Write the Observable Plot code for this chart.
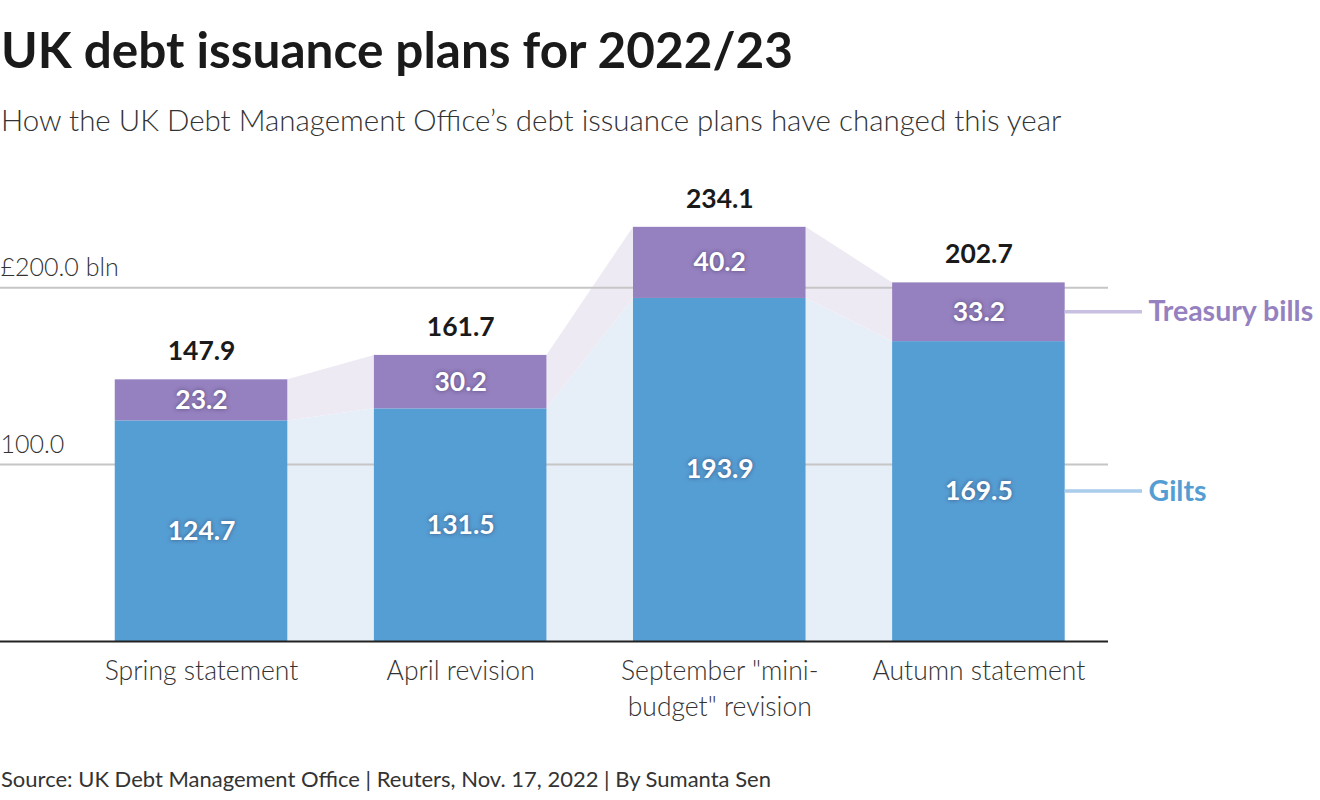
<!DOCTYPE html>
<html>
<head>
<meta charset="utf-8">
<script src="https://cdn.jsdelivr.net/npm/d3@7"></script>
<script src="https://cdn.jsdelivr.net/npm/@observablehq/plot@0.6"></script>
<style>
  html, body { margin: 0; padding: 0; background: #fff; width: 1320px; height: 800px; overflow: hidden; }
  body { font-family: Lato, "Open Sans", sans-serif; color: #222; position: relative; }
  #title { position: absolute; left: 1px; top: 21px; font-size: 49.5px; font-weight: 700; line-height: 56px; color: #1a1a1a; white-space: nowrap; }
  #subtitle { position: absolute; left: 1px; top: 102px; font-size: 29.5px; font-weight: 300; line-height: 36px; color: #333; white-space: nowrap; }
  #chart { position: absolute; left: 0; top: 150px; }
  #caption { position: absolute; left: 1px; top: 764px; font-size: 22px; font-weight: 400; line-height: 30px; color: #333; white-space: nowrap; }
  #chart svg g[fill="white"] text { text-shadow: 0 0 4px rgba(40,30,70,0.55); }
</style>
</head>
<body>
<div id="title">UK debt issuance plans for 2022/23</div>
<div id="subtitle">How the UK Debt Management Office’s debt issuance plans have changed this year</div>
<div id="chart"></div>
<div id="caption">Source: UK Debt Management Office | Reuters, Nov. 17, 2022 | By Sumanta Sen</div>
<script>
const categories = ["Spring statement", "April revision", "September \"mini-budget\" revision", "Autumn statement"];
const categoryLabels = ["Spring statement", "April revision", "September \"mini-\nbudget\" revision", "Autumn statement"];
const gilts = [124.7, 131.5, 193.9, 169.5];
const bills = [23.2, 30.2, 40.2, 33.2];
const totals = [147.9, 161.7, 234.1, 202.7];
const yTicks = [100, 200];
const yTickLabels = ["100.0", "£200.0 bln"];
const seriesNames = ["Gilts", "Treasury bills"];

const BLUE = "#559ed3", PURPLE = "#9581bf";
const LIGHT_BLUE = "#e6eff8", LIGHT_PURPLE = "#eeeaf4";

const rows = categories.map((c, i) => ({cat: c, gilts: gilts[i], bills: bills[i], total: totals[i]}));
const stacked = [];
rows.forEach(r => {
  stacked.push({cat: r.cat, series: "Gilts", y1: 0, y2: r.gilts, value: r.gilts});
  stacked.push({cat: r.cat, series: "Treasury bills", y1: r.gilts, y2: r.gilts + r.bills, value: r.bills});
});

function bw(x) { return typeof x.bandwidth === "function" ? x.bandwidth() : x.bandwidth; }

// connectors between bars, drawn from the plot's scales
function connectors(index, scales) {
  const {x, y} = scales;
  const w = bw(x);
  const g = d3.create("svg:g");
  for (let i = 0; i < rows.length - 1; i++) {
    const a = rows[i], b = rows[i + 1];
    const xa = x(a.cat) + w, xb = x(b.cat);
    g.append("path")
      .attr("d", `M${xa},${y(0)}L${xa},${y(a.gilts)}L${xb},${y(b.gilts)}L${xb},${y(0)}Z`)
      .attr("fill", LIGHT_BLUE);
    g.append("path")
      .attr("d", `M${xa},${y(a.gilts)}L${xa},${y(a.total)}L${xb},${y(b.total)}L${xb},${y(b.gilts)}Z`)
      .attr("fill", LIGHT_PURPLE);
  }
  return g.node();
}

// legend leader lines from the last bar to the series labels
function leaders(index, scales, values, dims) {
  const {x, y} = scales;
  const last = rows[rows.length - 1];
  const x0 = x(last.cat) + bw(x);
  const x1 = dims.width - dims.marginRight + 34;
  const g = d3.create("svg:g").attr("stroke-width", 3.5);
  g.append("line").attr("x1", x0).attr("x2", x1)
    .attr("y1", y(last.gilts + last.bills / 2)).attr("y2", y(last.gilts + last.bills / 2))
    .attr("stroke", "#c9bfe0");
  g.append("line").attr("x1", x0).attr("x2", x1)
    .attr("y1", y(last.gilts / 2)).attr("y2", y(last.gilts / 2))
    .attr("stroke", "#a9cdea");
  return g.node();
}

const lastRow = rows[rows.length - 1];
const legendRows = [
  {name: seriesNames[1], y: lastRow.gilts + lastRow.bills / 2, color: PURPLE},
  {name: seriesNames[0], y: lastRow.gilts / 2, color: BLUE}
];

const chart = Plot.plot({
  width: 1320,
  height: 581,
  marginLeft: 0,
  marginRight: 212,
  marginTop: 31,
  marginBottom: 90,
  style: {fontFamily: "Lato, 'Open Sans', sans-serif", background: "transparent"},
  x: {domain: categories, paddingInner: 0.334, paddingOuter: 0.305, align: 0.726, round: false, axis: null},
  y: {domain: [0, 260], axis: null},
  color: {domain: seriesNames, range: [BLUE, PURPLE]},
  marks: [
    connectors,
    Plot.ruleY(yTicks, {stroke: "#c6c6c6", strokeWidth: 2}),
    Plot.text(yTicks, {y: d => d, text: (d, i) => yTickLabels[i], frameAnchor: "left", textAnchor: "start", dy: -20, fontSize: 25, fontWeight: 300, fill: "#333"}),
    Plot.rectY(stacked, {x: "cat", y1: "y1", y2: "y2", fill: "series"}),
    Plot.ruleY([0], {stroke: "#222", strokeWidth: 2}),
    Plot.text(stacked, {x: "cat", y: d => (d.y1 + d.y2) / 2, text: d => d.value.toFixed(1), fill: "white", fontSize: 26.5, fontWeight: 700}),
    Plot.text(rows, {x: "cat", y: "total", text: d => d.total.toFixed(1), dy: -28, fill: "#1a1a1a", fontSize: 26.5, fontWeight: 700}),
    Plot.axisX({domain: categories, tickSize: 0, tickPadding: 13, tickFormat: (d, i) => categoryLabels[categories.indexOf(d)], fontSize: 26.5, fontWeight: 300, fill: "#333", lineHeight: 1.36, textAnchor: "middle", label: null}),
    leaders,
    Plot.text(legendRows, {y: "y", text: "name", fill: "color", frameAnchor: "right", textAnchor: "start", dx: 40, fontSize: 28.5, fontWeight: 700})
  ]
});
document.getElementById("chart").appendChild(chart);
</script>
</body>
</html>
